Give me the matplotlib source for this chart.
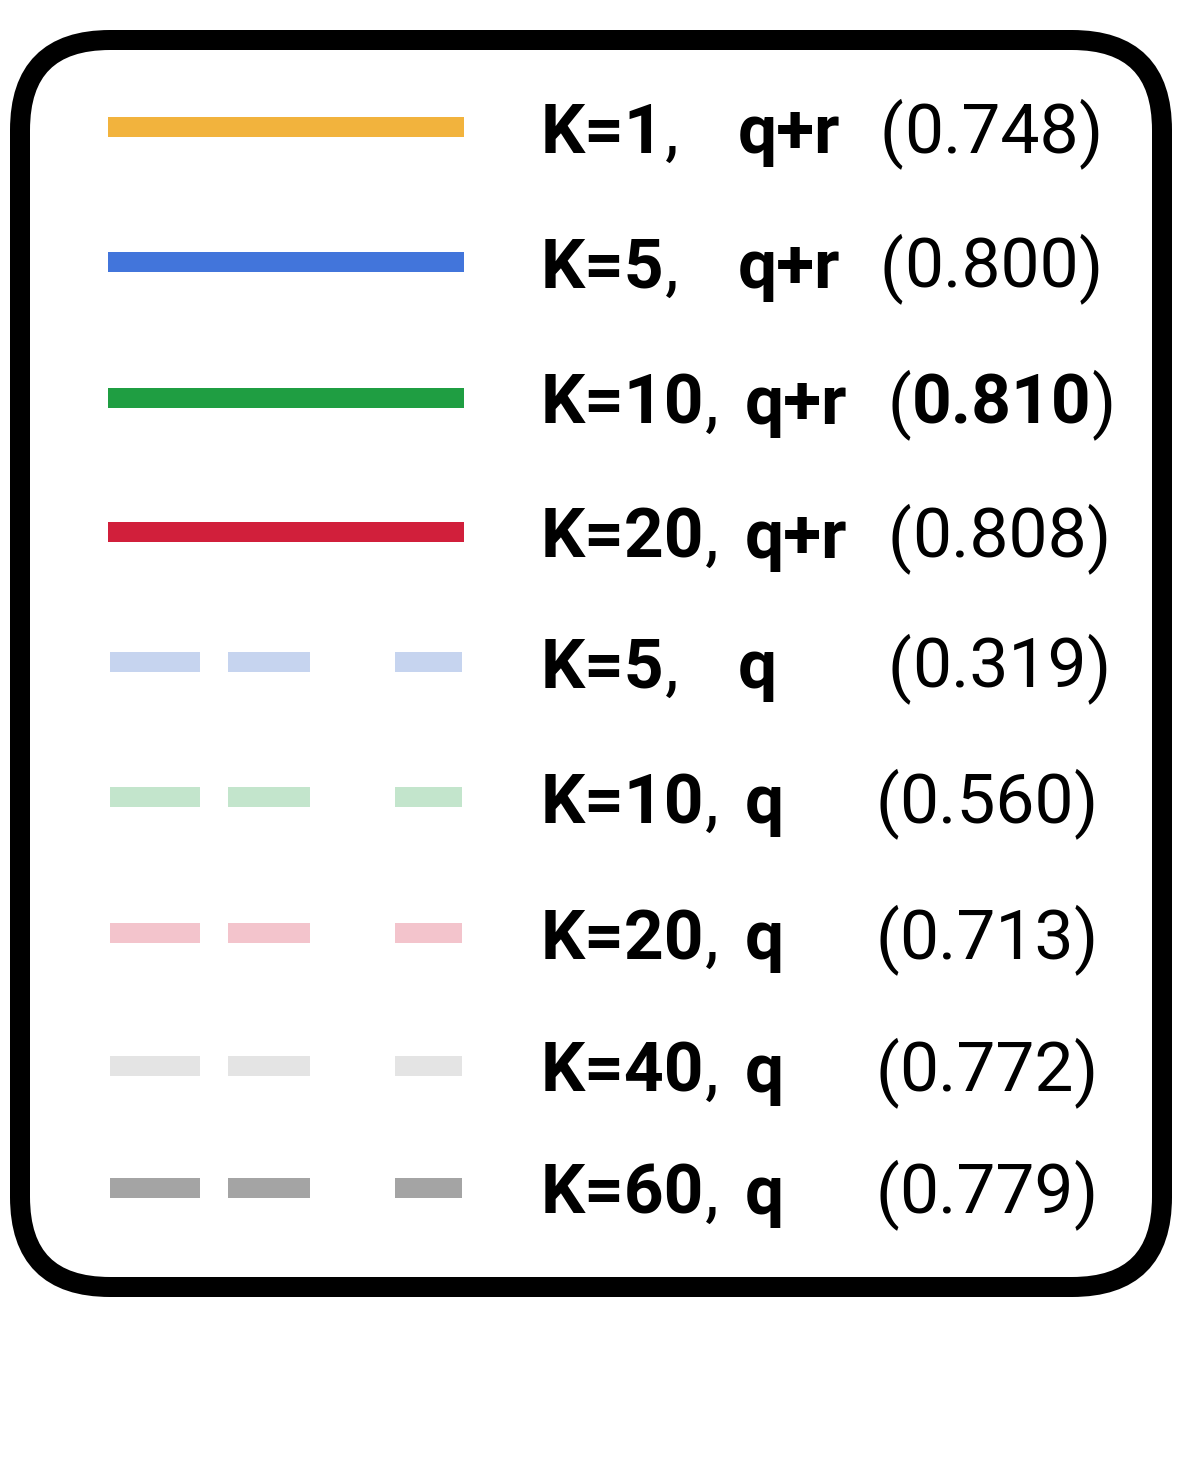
import matplotlib
matplotlib.use("Agg")
import matplotlib.pyplot as plt
from matplotlib.patches import FancyBboxPatch

plt.rcParams['font.family'] = ['Roboto', 'DejaVu Sans']
plt.rcParams['lines.scale_dashes'] = False

# legend entries
k_values = [1, 5, 10, 20, 5, 10, 20, 40, 60]
modes = ["q+r", "q+r", "q+r", "q+r", "q", "q", "q", "q", "q"]
scores = [0.748, 0.800, 0.810, 0.808, 0.319, 0.560, 0.713, 0.772, 0.779]
colors = ["#F2B33D", "#4275DB", "#1F9E42", "#D11F3B",
          "#C6D4EF", "#C3E5CC", "#F3C4CC", "#E4E4E4", "#A4A4A4"]
best = max(scores)

# layout (pixels)
row_y = [127, 262, 398, 532, 662, 797, 933, 1066, 1188]
mode_x = [738, 738, 745, 745, 738, 745, 745, 745, 745]
score_x = [880, 880, 888, 888, 888, 875, 875, 875, 875]
fs = 50

fig = plt.figure(figsize=(11.96, 14.62), dpi=100)
ax = fig.add_axes([0, 0, 1, 1])
ax.set_xlim(0, 1196)
ax.set_ylim(1462, 0)
ax.axis('off')

box = FancyBboxPatch((20, 40), 1142, 1247,
                     boxstyle="round,pad=0,rounding_size=90",
                     fc="white", ec="black", lw=14.4)
ax.add_patch(box)

renderer = fig.canvas.get_renderer()


def put(x, y, s, weight):
    t = ax.text(x, y, s, fontsize=fs, fontweight=weight, va='baseline', ha='left')
    bb = t.get_window_extent(renderer=renderer)
    return x + bb.width


for i, (k, m, sc, c) in enumerate(zip(k_values, modes, scores, colors)):
    y = row_y[i]
    if m == "q+r":
        ax.plot([108, 464], [y, y], color=c, lw=14.4, solid_capstyle='butt')
    else:
        ax.plot([110, 462], [y, y], color=c, lw=14.4, dash_capstyle='butt',
                dashes=(90 * 0.72, 28 * 0.72, 82 * 0.72, 85 * 0.72))
    base = y + 26
    x = put(541, base, f"K={k}", 'bold')
    put(x, base, ",", 'normal')
    put(mode_x[i], base, m, 'bold')
    x = put(score_x[i], base, "(", 'normal')
    x = put(x, base, f"{sc:.3f}", 'bold' if sc == best else 'normal')
    put(x, base, ")", 'normal')

fig.savefig("out.png", dpi=100)
